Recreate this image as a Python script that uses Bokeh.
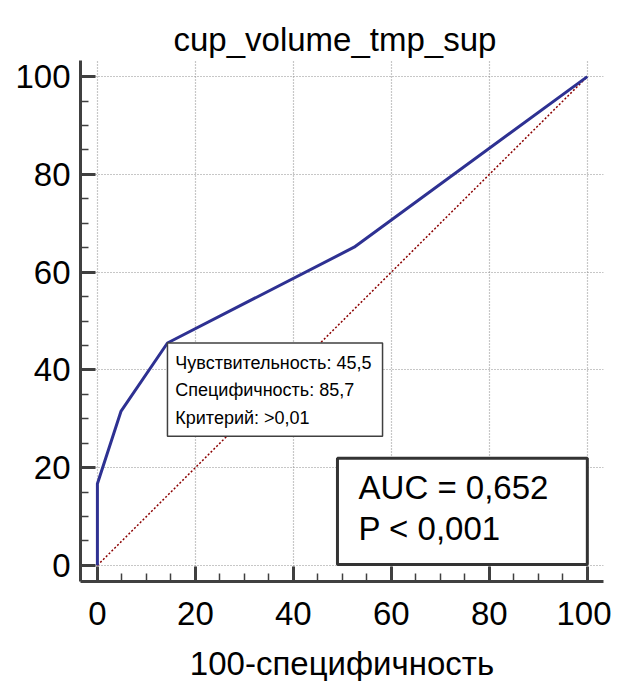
from bokeh.plotting import figure
from bokeh.models import Range1d, FixedTicker, BoxAnnotation, Label
from bokeh.embed import file_html
from bokeh.resources import INLINE

# ROC data (100-specificity, sensitivity)
fpr = [0.0, 0.0, 4.8, 14.3, 52.4, 100.0]
tpr = [0.0, 16.7, 31.5, 45.5, 65.1, 100.0]
diag_x = [0, 100]
diag_y = [0, 100]
major_ticks = [0, 20, 40, 60, 80, 100]
minor_ticks = [5, 10, 15, 25, 30, 35, 45, 50, 55, 65, 70, 75, 85, 90, 95]
title_text = "cup_volume_tmp_sup"
x_label = "100-специфичность"
crit_lines = ["Чувствительность: 45,5", "Специфичность: 85,7", "Критерий: >0,01"]
auc_lines = ["AUC = 0,652", "P < 0,001"]

FONT = "Liberation Sans"
AX = "#404040"
BIG = "33px"

p = figure(frame_width=523, frame_height=521, output_backend="svg", toolbar_location=None,
           x_range=Range1d(-3.45, 103.3), y_range=Range1d(-3.3, 103.3),
           min_border_left=80, min_border_right=8, min_border_top=60, min_border_bottom=90)
p.outline_line_color = None
p.background_fill_color = "white"
p.border_fill_color = "white"

p.title.text = title_text
p.title.align = "left"
p.title.offset = 93
p.title.vertical_align = "top"
p.title.standoff = 2
p.title.text_font = FONT
p.title.text_font_size = BIG
p.title.text_font_style = "normal"
p.title.text_color = "black"

for ax in (p.xaxis[0], p.yaxis[0]):
    ax.ticker = FixedTicker(ticks=major_ticks, minor_ticks=minor_ticks)
    ax.axis_line_width = 3
    ax.axis_line_color = AX
    ax.major_tick_line_color = AX
    ax.major_tick_line_width = 3
    ax.minor_tick_line_color = AX
    ax.minor_tick_line_width = 1.5
    ax.major_tick_in = 15
    ax.major_tick_out = 0
    ax.minor_tick_in = 8
    ax.minor_tick_out = 0
    ax.major_label_text_font = FONT
    ax.major_label_text_font_size = BIG
    ax.major_label_text_color = "black"

p.xaxis.major_label_standoff = 20
p.yaxis.major_label_standoff = 10
p.xaxis.axis_label = x_label
p.xaxis.axis_label_text_font = FONT
p.xaxis.axis_label_text_font_size = BIG
p.xaxis.axis_label_text_font_style = "normal"
p.xaxis.axis_label_text_color = "black"
p.xaxis.axis_label_standoff = 17

for g in (p.xgrid[0], p.ygrid[0]):
    g.ticker = FixedTicker(ticks=major_ticks)
    g.grid_line_color = "#8f8f8f"
    g.grid_line_dash = "1 2"
    g.grid_line_width = 1.2

p.line(diag_x, diag_y, line_color="#8b0000", line_width=1.5, line_dash="2 2")
p.line(fpr, tpr, line_color="#2e3192", line_width=3)

# criterion box anchored at the cut-off point
cx, cy = fpr[3], tpr[3]
p.add_layout(BoxAnnotation(left=cx, right=58.2, top=cy, bottom=26.4,
                           fill_color="white", fill_alpha=1.0,
                           line_color=AX, line_alpha=1.0, line_width=1.5))
for i, t in enumerate(crit_lines):
    p.add_layout(Label(x=15.9, y=41.5 - i * 5.7, text=t, text_font=FONT,
                       text_font_size="18px", text_color="black",
                       text_baseline="alphabetic"))

p.add_layout(BoxAnnotation(left=49.0, right=100.0, top=21.9, bottom=0.2,
                           fill_color="white", fill_alpha=1.0,
                           line_color="#333333", line_alpha=1.0, line_width=3))
for i, t in enumerate(auc_lines):
    p.add_layout(Label(x=53.3, y=15.9 - i * 8.4, text=t, text_font=FONT,
                       text_font_size=BIG, text_color="black",
                       text_baseline="alphabetic"))

open("out.html", "w").write(file_html(p, INLINE))
